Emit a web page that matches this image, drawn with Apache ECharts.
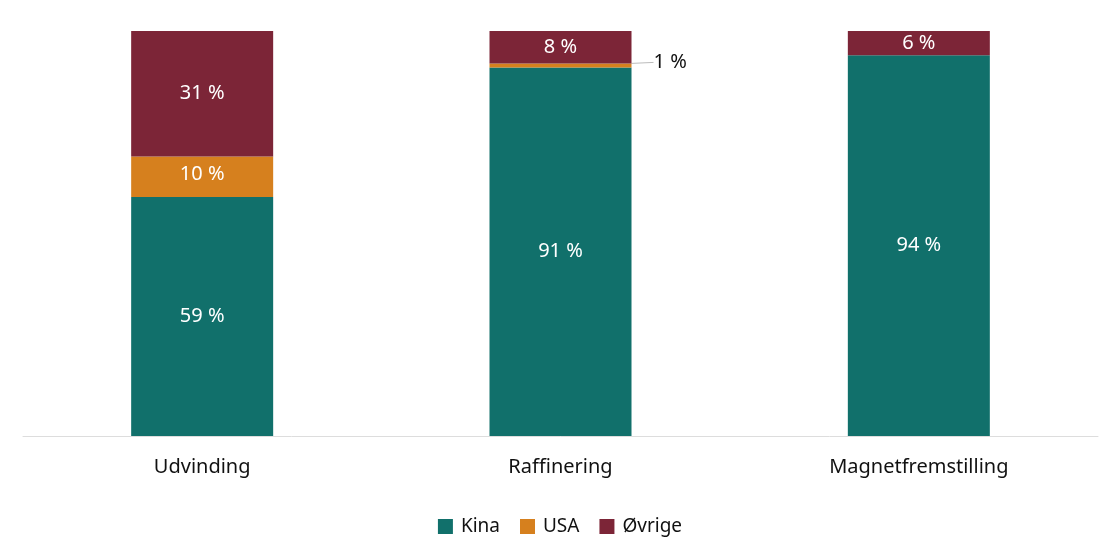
<!DOCTYPE html>
<html>
<head>
<meta charset="utf-8">
<script src="https://cdn.jsdelivr.net/npm/echarts@6/dist/echarts.min.js"></script>
<style>html,body{margin:0;padding:0;background:#fff;}#c{width:1120px;height:557px;}</style>
</head>
<body>
<div id="c"></div>
<script>
var categories = ['Udvinding', 'Raffinering', 'Magnetfremstilling'];
var kina = [59, 91, 94];
var usa = [10, 1, 0];
var ovrige = [31, 8, 6];
var seriesNames = ['Kina', 'USA', 'Øvrige'];
var colors = ['#11706B', '#D6801E', '#7C2537'];

var FONT = 'Noto Sans';
var chart = echarts.init(document.getElementById('c'));
var inLabel = { show: true, position: 'inside', color: '#fff', fontFamily: FONT, fontSize: 20, formatter: '{c} %' };

var usaData = usa.map(function (v, i) {
  if (v === 0) return { value: v, label: { show: false } };
  if (v < 3) return { value: v, label: { show: true, position: 'right', distance: 22, color: '#111', fontFamily: FONT, fontSize: 20, formatter: '{c} %' } };
  return v;
});

chart.setOption({
  animation: false,
  color: colors,
  grid: { left: 23, right: 22, top: 31, bottom: 121 },
  legend: {
    bottom: 16, left: 'center', icon: 'rect', itemWidth: 15, itemHeight: 15, itemGap: 20,
    textStyle: { fontFamily: FONT, fontSize: 19, color: '#111', padding: [0, 0, 0, 3] },
    data: seriesNames
  },
  xAxis: {
    type: 'category', data: categories,
    axisLine: { lineStyle: { color: '#dddddd', width: 1 } },
    axisTick: { show: false },
    axisLabel: { fontFamily: FONT, fontSize: 20, color: '#111', margin: 21 }
  },
  yAxis: { type: 'value', min: 0, max: 100, show: false, splitLine: { show: false } },
  series: [
    { name: seriesNames[0], type: 'bar', stack: 's', barWidth: 142, data: kina, label: inLabel },
    { name: seriesNames[1], type: 'bar', stack: 's', barWidth: 142, data: usaData, label: inLabel,
      labelLine: { show: true, lineStyle: { color: '#bbbbbb', width: 1 } },
      labelLayout: function (p) { return { dy: -3 }; } },
    { name: seriesNames[2], type: 'bar', stack: 's', barWidth: 142, data: ovrige, label: inLabel }
  ]
});
</script>
</body>
</html>
